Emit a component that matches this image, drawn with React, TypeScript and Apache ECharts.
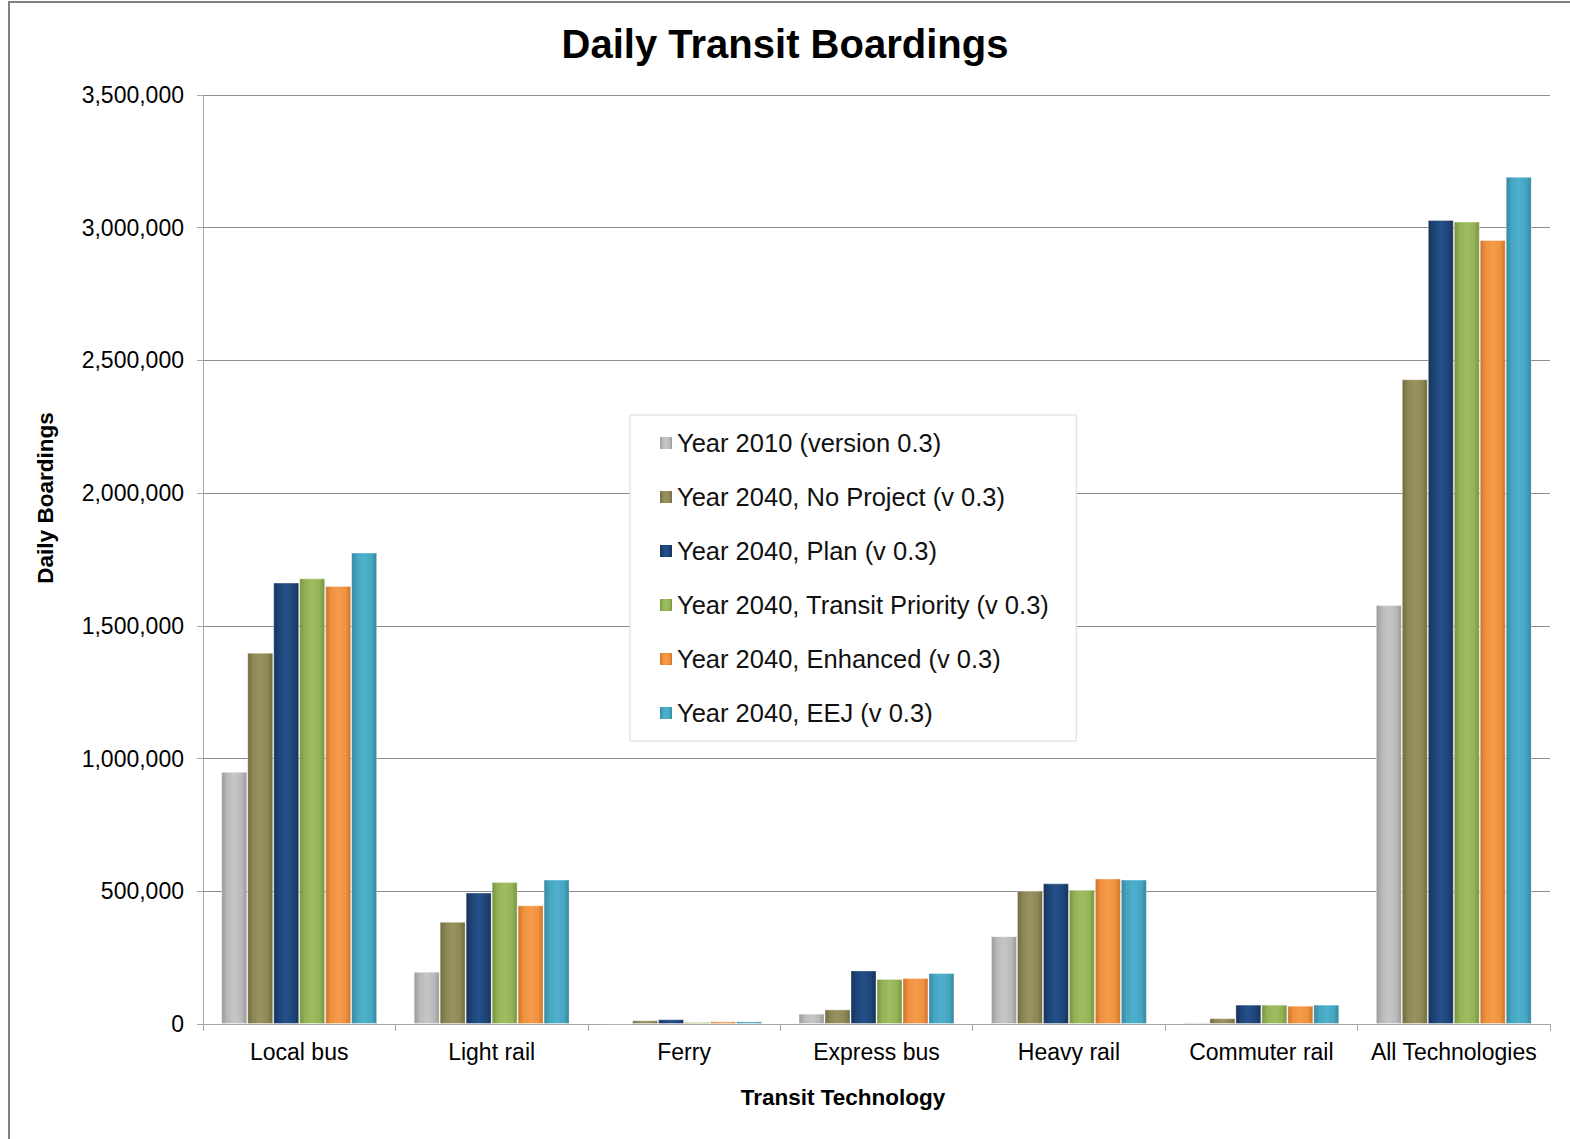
import React, { useEffect, useRef } from "react";
import * as echarts from "echarts";

const categories = ["Local bus", "Light rail", "Ferry", "Express bus", "Heavy rail", "Commuter rail", "All Technologies"];
const seriesNames = [
  "Year 2010 (version 0.3)",
  "Year 2040, No Project (v 0.3)",
  "Year 2040, Plan (v 0.3)",
  "Year 2040, Transit Priority (v 0.3)",
  "Year 2040, Enhanced (v 0.3)",
  "Year 2040, EEJ (v 0.3)",
];
const year2010 = [950000, 197000, 2000, 39000, 331000, 6000, 1579000];
const noProject = [1399000, 385000, 14000, 55000, 502000, 22000, 2429000];
const plan = [1663000, 495000, 18000, 202000, 530000, 73000, 3029000];
const transitPriority = [1679000, 535000, 7500, 170000, 506000, 73000, 3023000];
const enhanced = [1650000, 447000, 10000, 173000, 548000, 69000, 2954000];
const eej = [1776000, 544000, 10000, 192000, 544000, 73000, 3192000];
const yTicks = { min: 0, max: 3500000, interval: 500000 };

const seriesData = [year2010, noProject, plan, transitPriority, enhanced, eej];
const baseColors = ["#B9B9B9", "#8E8654", "#1E4477", "#93B356", "#F0913F", "#46A6C2"];
const darkColors = ["#999999", "#716B40", "#153357", "#779341", "#CC742B", "#35869E"];
const lightColors = ["#C6C6C6", "#9A9260", "#24508A", "#9DBD60", "#F59B4A", "#4EB0CC"];

const FONT = "'Liberation Sans', Arial, sans-serif";

export default function App() {
  const ref = useRef<HTMLDivElement>(null);
  useEffect(() => {
    if (!ref.current) return;
    const chart = echarts.init(ref.current, undefined, { renderer: "svg" });
    const fmt = (v: number) => v.toLocaleString("en-US");
    chart.setOption({
      animation: false,
      backgroundColor: "#ffffff",
      textStyle: { fontFamily: FONT },
      title: {
        text: "Daily Transit Boardings",
        left: "center",
        top: 24,
        padding: 0,
        textStyle: { fontSize: 40, fontWeight: "bold", color: "#000", fontFamily: FONT },
      },
      graphic: [
        {
          type: "rect",
          shape: { x: 9, y: 2, width: 3000, height: 3000 },
          style: { fill: "none", stroke: "#808080", lineWidth: 2 },
          silent: true,
        },
        {
          type: "text",
          x: 45,
          y: 498,
          rotation: Math.PI / 2,
          style: {
            text: "Daily Boardings",
            font: "bold 22.5px 'Liberation Sans', Arial, sans-serif",
            fill: "#000",
            align: "center",
            verticalAlign: "middle",
          },
        },
        {
          type: "text",
          x: 843,
          y: 1097,
          style: {
            text: "Transit Technology",
            font: "bold 22.5px 'Liberation Sans', Arial, sans-serif",
            fill: "#000",
            align: "center",
            verticalAlign: "middle",
          },
        },
      ],
      legend: {
        orient: "vertical",
        left: 630,
        top: 415,
        padding: [13, 27, 13, 30],
        itemGap: 24,
        itemWidth: 12,
        itemHeight: 12,
        itemTextGap: 7,
        itemStyle: { borderWidth: 0 },
        icon: "rect",
        backgroundColor: "#ffffff",
        borderColor: "#d9d9d9",
        borderWidth: 1,
        data: seriesNames,
        textStyle: { fontSize: 25.5, lineHeight: 30, color: "#111", fontFamily: FONT },
      },
      grid: { left: 203, right: 20, top: 95, bottom: 115, containLabel: false },
      xAxis: {
        type: "category",
        data: categories,
        axisLine: { lineStyle: { color: "#a6a6a6", width: 1 } },
        axisTick: { show: true, length: 7, lineStyle: { color: "#a6a6a6" } },
        axisLabel: { fontSize: 23, color: "#000", margin: 16, interval: 0, fontFamily: FONT },
      },
      yAxis: {
        type: "value",
        min: yTicks.min,
        max: yTicks.max,
        interval: yTicks.interval,
        axisLine: { show: true, lineStyle: { color: "#a6a6a6", width: 1 } },
        axisTick: { show: true, length: 6, lineStyle: { color: "#a6a6a6" } },
        axisLabel: { fontSize: 23, color: "#000", margin: 19, formatter: fmt, fontFamily: FONT },
        splitLine: { lineStyle: { color: "#8c8c8c", width: 1 } },
      },
      series: seriesNames.map((name, i) => ({
        name,
        type: "bar",
        data: seriesData[i],
        barGap: "0%",
        barCategoryGap: "19%",
        itemStyle: {
          color: new echarts.graphic.LinearGradient(0, 0, 1, 0, [
            { offset: 0, color: darkColors[i] },
            { offset: 0.22, color: baseColors[i] },
            { offset: 0.5, color: lightColors[i] },
            { offset: 0.8, color: baseColors[i] },
            { offset: 1, color: darkColors[i] },
          ]),
          borderColor: "rgba(255,255,255,0.35)",
          borderWidth: 1,
        },
      })),
    });
    return () => chart.dispose();
  }, []);
  return (
    <div
      ref={ref}
      style={{ position: "fixed", left: 0, top: 0, width: 1570, height: 1139 }}
    />
  );
}
